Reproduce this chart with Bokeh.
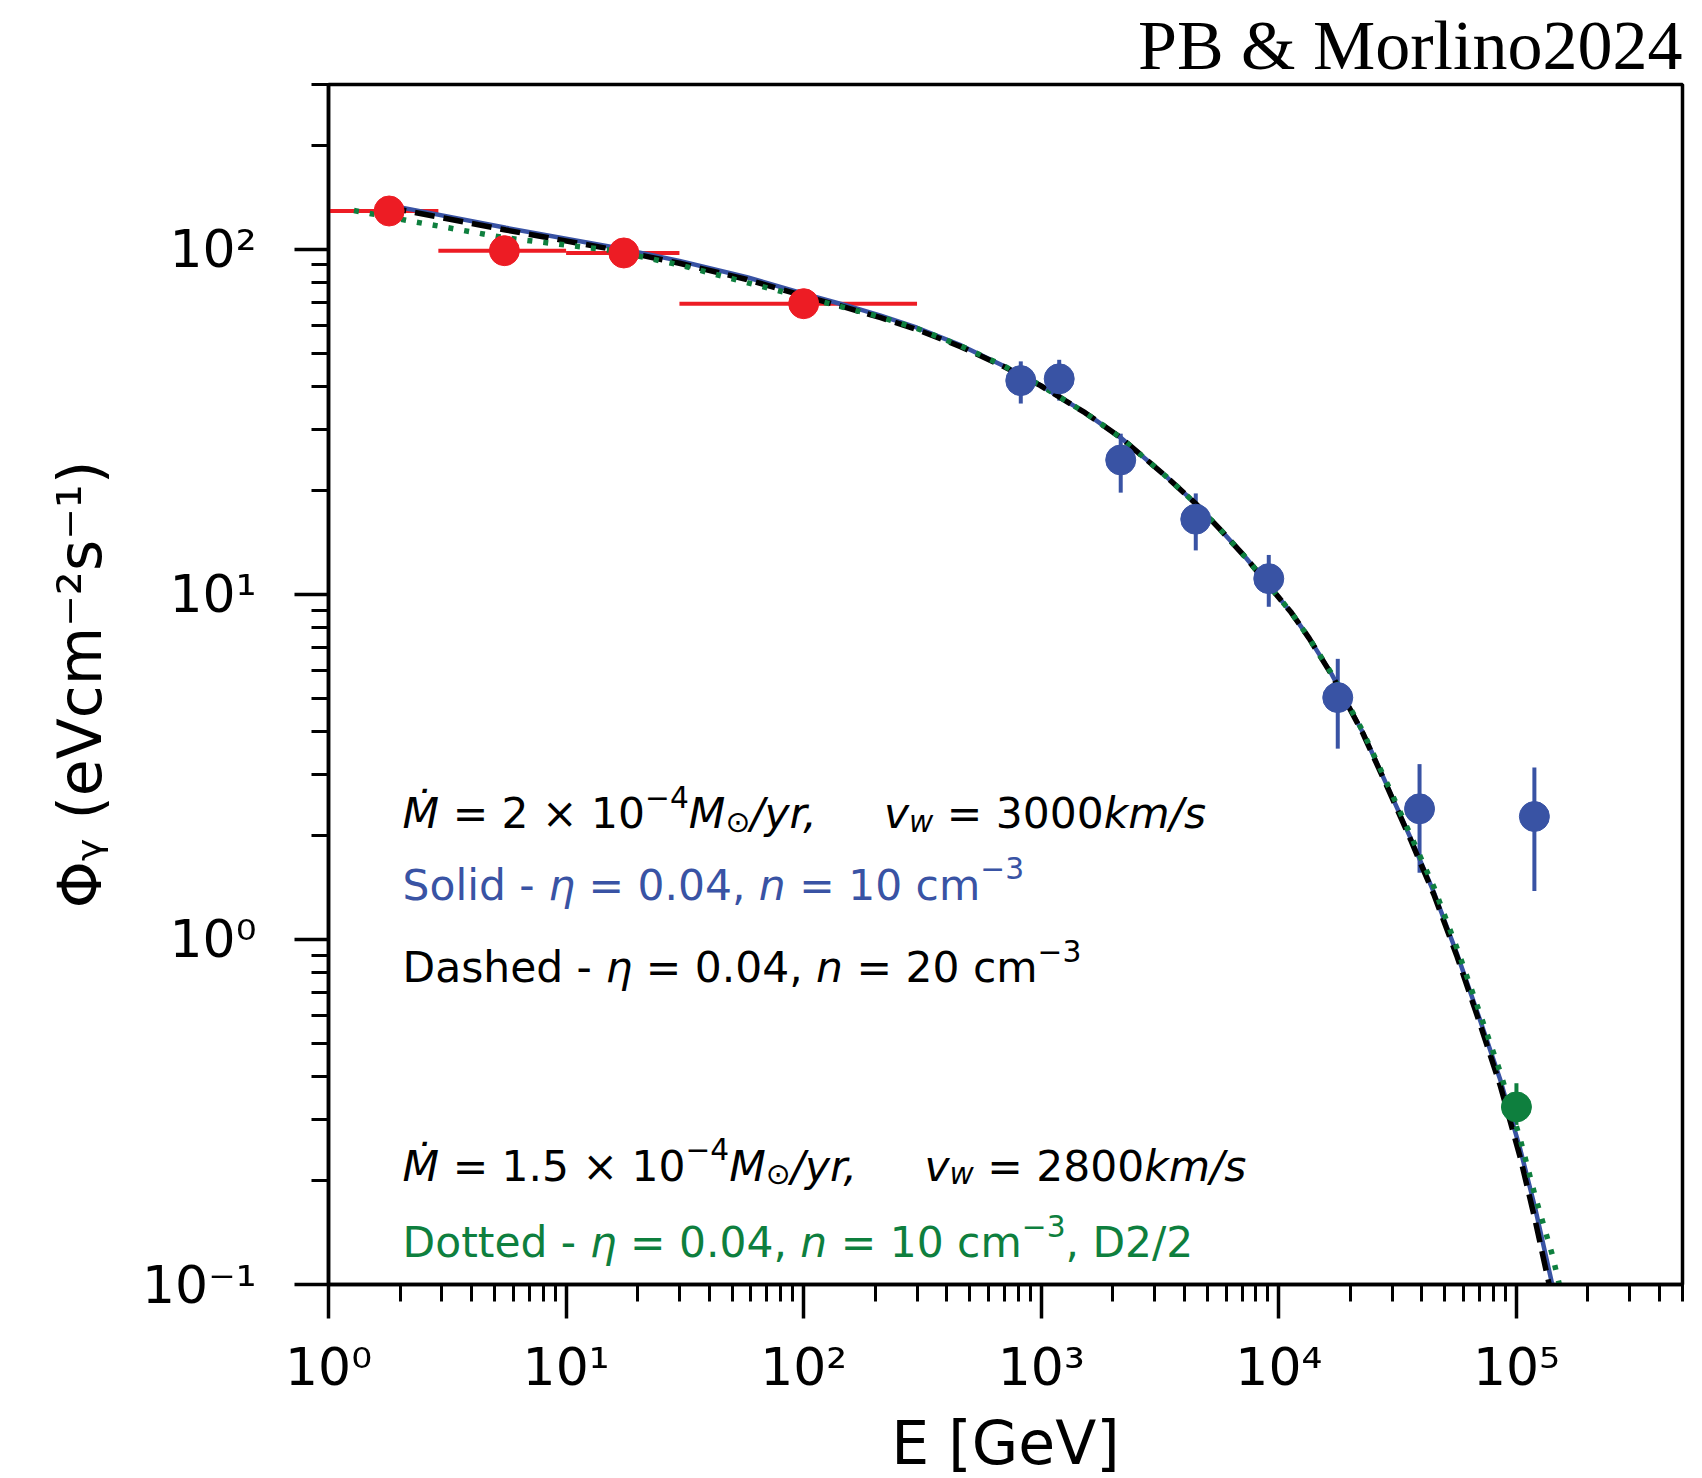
import glob
import os

from bokeh.core.properties import value
from bokeh.embed import file_html
from bokeh.models import ColumnDataSource, CustomJSTickFormatter, FixedTicker
from bokeh.plotting import figure
from bokeh.resources import INLINE

# ---------------------------------------------------------------- data
# Fermi-LAT style points (red): energy [GeV], flux, energy-bin edges
fermi_E = [1.8, 5.5, 17.5, 100.0]
fermi_F = [129.0, 99.0, 97.5, 69.5]
fermi_Elo = [1.0, 2.9, 10.0, 30.0]
fermi_Ehi = [2.9, 10.0, 30.0, 300.0]

# TeV points (blue): energy, flux, flux error band
tev_E = [820, 1190, 2160, 4470, 9070, 17700, 39100, 119000]
tev_F = [41.6, 42.1, 24.5, 16.5, 11.1, 5.02, 2.39, 2.27]
tev_Flo = [35.7, 36.4, 19.7, 13.4, 9.2, 3.57, 1.56, 1.38]
tev_Fhi = [47.3, 47.8, 29.2, 19.6, 13.0, 6.5, 3.22, 3.15]

# 100 TeV point (green)
uhe_E = [100000]
uhe_F = [0.327]
uhe_Flo = [0.29]
uhe_Fhi = [0.383]

# model curves
model_E = [1.75, 2.06, 5.58, 15.8, 30, 57.7, 100, 150, 211, 300, 460, 699, 989,
           1528, 2163, 3340, 4470, 5620, 7310, 9080, 11280, 13420, 16680,
           22600, 28550, 35800, 44900, 56300, 70500, 85700, 104000, 120000,
           141500, 152000]
solid_F = [133, 131.7, 115.3, 101.3, 92.5, 82.9, 74.3, 68.8, 64.2, 59.2, 52.6,
           45.8, 40.4, 33.6, 28.4, 22.0, 18.3, 15.5, 12.7, 10.6, 8.85, 7.45,
           5.87, 3.97, 2.79, 1.97, 1.37, 0.906, 0.580, 0.390, 0.245, 0.166,
           0.100, 0.080]
dashed_F = [131, 129.7, 113.6, 99.8, 91.0, 81.7, 73.2, 67.8, 63.3, 58.5, 52.1,
            45.6, 40.3, 33.6, 28.4, 22.0, 18.3, 15.5, 12.7, 10.6, 8.85, 7.45,
            5.85, 3.95, 2.77, 1.95, 1.35, 0.89, 0.565, 0.375, 0.232, 0.153,
            0.091, 0.072]
dotted_E = [1.28, 2.15, 5.56, 15.7, 30, 57.4, 100, 150, 211, 300, 460, 699, 989,
            1528, 2163, 3340, 4470, 5620, 7310, 9080, 11280, 13420, 16680,
            22600, 28550, 35800, 44900, 56300, 70500, 85700, 104000, 120000,
            141500, 156000]
dotted_F = [129.4, 121, 107.8, 99.1, 90.0, 80.1, 72.6, 67.6, 63.6, 58.9, 52.4,
            45.8, 40.4, 33.6, 28.4, 22.0, 18.3, 15.5, 12.7, 10.6, 8.85, 7.45,
            5.89, 4.0, 2.83, 2.01, 1.42, 0.94, 0.605, 0.41, 0.262, 0.180,
            0.122, 0.092]

# axis ticks
x_major = [1, 10, 100, 1000, 10000, 100000]
y_major = [0.1, 1, 10, 100]

RED = "#ed1c24"
BLUE = "#3953a4"
GREEN = "#0e7f3e"
BLACK = "#000000"

# ---------------------------------------------------------------- text metrics
try:
    from PIL import ImageFont
except Exception:  # pragma: no cover
    ImageFont = None


def _load(fname):
    if ImageFont is None:
        return None
    try:
        return ImageFont.truetype(fname, 100)
    except Exception:
        pass
    for root in ("/usr/share/fonts", "/usr/local/share/fonts",
                 os.path.expanduser("~/.fonts"), os.path.expanduser("~/.local/share/fonts")):
        for h in glob.glob(os.path.join(root, "**", fname), recursive=True):
            try:
                return ImageFont.truetype(h, 100)
            except Exception:
                continue
    return None


FONT_R = _load("DejaVuSans.ttf")
FONT_I = _load("DejaVuSans-Oblique.ttf") or FONT_R


def text_width(s, italic, size):
    f = FONT_I if italic else FONT_R
    if f is None:
        return 0.6 * size * len(s)
    return f.getlength(s) * size / 100.0


# ---------------------------------------------------------------- figure
p = figure(
    x_axis_type="log", y_axis_type="log",
    x_range=(1, 5e5), y_range=(0.1, 300),
    frame_width=1354, frame_height=1200,
    min_border_left=328, min_border_right=20,
    min_border_top=84, min_border_bottom=194,
    output_backend="svg", toolbar_location=None,
    background_fill_color="white", border_fill_color="white",
)
p.grid.visible = False
p.outline_line_color = "black"
p.outline_line_width = 3.5
p.outline_line_alpha = 1.0

p.title.text = "PB & Morlino2024"
p.title.align = "right"
p.title.text_font = "Liberation Serif"
p.title.text_font_size = "70px"
p.title.text_font_style = "normal"
p.title.text_color = "black"
p.title.standoff = 2

minor_x = [m * 10 ** k for k in range(0, 6) for m in range(2, 10) if m * 10 ** k <= 5e5]
minor_y = [m * 10.0 ** k for k in range(-1, 3) for m in range(2, 10) if m * 10.0 ** k <= 300]
p.xaxis.ticker = FixedTicker(ticks=x_major, minor_ticks=minor_x)
p.yaxis.ticker = FixedTicker(ticks=y_major, minor_ticks=minor_y)

sup_fmt = CustomJSTickFormatter(code="""
const sup = {'-':'\u207b','0':'\u2070','1':'\u00b9','2':'\u00b2','3':'\u00b3',
             '4':'\u2074','5':'\u2075','6':'\u2076','7':'\u2077','8':'\u2078','9':'\u2079'};
const e = Math.round(Math.log10(tick));
return '10' + String(e).split('').map(c => sup[c]).join('');
""")
p.xaxis.formatter = sup_fmt
p.yaxis.formatter = sup_fmt

for ax in (p.xaxis[0], p.yaxis[0]):
    ax.axis_line_width = 3.5
    ax.major_tick_line_width = 3.5
    ax.minor_tick_line_width = 3.0
    ax.major_tick_out = 34
    ax.major_tick_in = 0
    ax.minor_tick_out = 17
    ax.minor_tick_in = 0
    ax.major_label_text_font = "DejaVu Sans"
    ax.major_label_text_font_size = "52px"
    ax.major_label_text_color = "black"
    ax.axis_label_text_font = "DejaVu Sans"
    ax.axis_label_text_font_size = "60px"
    ax.axis_label_text_font_style = "normal"
    ax.axis_label_text_color = "black"

p.xaxis.axis_label = "E [GeV]"
p.xaxis.major_label_standoff = 18
p.xaxis.axis_label_standoff = 8
p.yaxis.axis_label = "\u03a6\u1d67 (eVcm\u207b\u00b2s\u207b\u00b9)"
p.yaxis.major_label_standoff = 38
p.yaxis.axis_label_standoff = 24

# ---------------------------------------------------------------- error bars
p.segment(x0=fermi_Elo, x1=fermi_Ehi, y0=fermi_F, y1=fermi_F,
          line_color=RED, line_width=4)
p.segment(x0=tev_E, x1=tev_E, y0=tev_Flo, y1=tev_Fhi,
          line_color=BLUE, line_width=4)
p.segment(x0=uhe_E, x1=uhe_E, y0=uhe_Flo, y1=uhe_Fhi,
          line_color=GREEN, line_width=4)

# ---------------------------------------------------------------- model curves
p.line(model_E, solid_F, line_color=BLUE, line_width=4.5)
p.line(model_E, dashed_F, line_color=BLACK, line_width=5.5, line_dash="20 9")
p.line(dotted_E, dotted_F, line_color=GREEN, line_width=5.5, line_dash="5 11")

# ---------------------------------------------------------------- markers
p.scatter(fermi_E, fermi_F, size=30, fill_color=RED, line_color=RED)
p.scatter(tev_E, tev_F, size=30, fill_color=BLUE, line_color=BLUE)
p.scatter(uhe_E, uhe_F, size=30, fill_color=GREEN, line_color=GREEN)

# ---------------------------------------------------------------- annotations
TEXT_X = 2.05
TEXT_SIZE = 42.4
SUB_SCALE = 0.7
SP = "\u00a0"  # spaces inside a segment must survive SVG whitespace folding

line_y = [2.31, 1.437, 0.827, 0.220, 0.1323]
line_colors = [BLACK, BLUE, BLACK, BLACK, GREEN]
line_parts = [
    [("\u1e40", "i"), (" = 2 \u00d7 10", "r"), ("\u22124", "sup"), ("M", "i"),
     ("\u2299", "sub"), ("/yr,", "i"), ("     ", "r"), ("v", "i"), ("w", "isub"),
     (" = 3000", "r"), ("km/s", "i")],
    [("Solid - ", "r"), ("\u03b7", "i"), (" = 0.04, ", "r"), ("n", "i"),
     (" = 10 cm", "r"), ("\u22123", "sup")],
    [("Dashed - ", "r"), ("\u03b7", "i"), (" = 0.04, ", "r"), ("n", "i"),
     (" = 20 cm", "r"), ("\u22123", "sup")],
    [("\u1e40", "i"), (" = 1.5 \u00d7 10", "r"), ("\u22124", "sup"), ("M", "i"),
     ("\u2299", "sub"), ("/yr,", "i"), ("     ", "r"), ("v", "i"), ("w", "isub"),
     (" = 2800", "r"), ("km/s", "i")],
    [("Dotted - ", "r"), ("\u03b7", "i"), (" = 0.04, ", "r"), ("n", "i"),
     (" = 10 cm", "r"), ("\u22123", "sup"), (", D2/2", "r")],
]

cols = dict(x=[], y=[], text=[], dx=[], dy=[], size=[], style=[], color=[])
for yv, color, parts in zip(line_y, line_colors, line_parts):
    cursor = 0.0
    for txt, kind in parts:
        txt = txt.replace(" ", SP)
        italic = kind in ("i", "isub")
        small = kind in ("sup", "sub", "isub")
        size = TEXT_SIZE * (SUB_SCALE if small else 1.0)
        if kind == "sup":
            shift = -0.40 * TEXT_SIZE
        elif kind in ("sub", "isub"):
            shift = 0.18 * TEXT_SIZE
        else:
            shift = 0.0
        cols["x"].append(TEXT_X)
        cols["y"].append(yv)
        cols["text"].append(txt)
        cols["dx"].append(cursor)
        cols["dy"].append(shift)
        cols["size"].append(f"{size:.1f}px")
        cols["style"].append("italic" if italic else "normal")
        cols["color"].append(color)
        cursor += text_width(txt, italic, size)

p.text(x="x", y="y", text="text", x_offset="dx", y_offset="dy",
       text_font=value("DejaVu Sans"), text_font_size="size",
       text_font_style="style", text_color="color",
       text_align="left", text_baseline="alphabetic",
       source=ColumnDataSource(cols))

open("out.html", "w").write(file_html(p, INLINE))
